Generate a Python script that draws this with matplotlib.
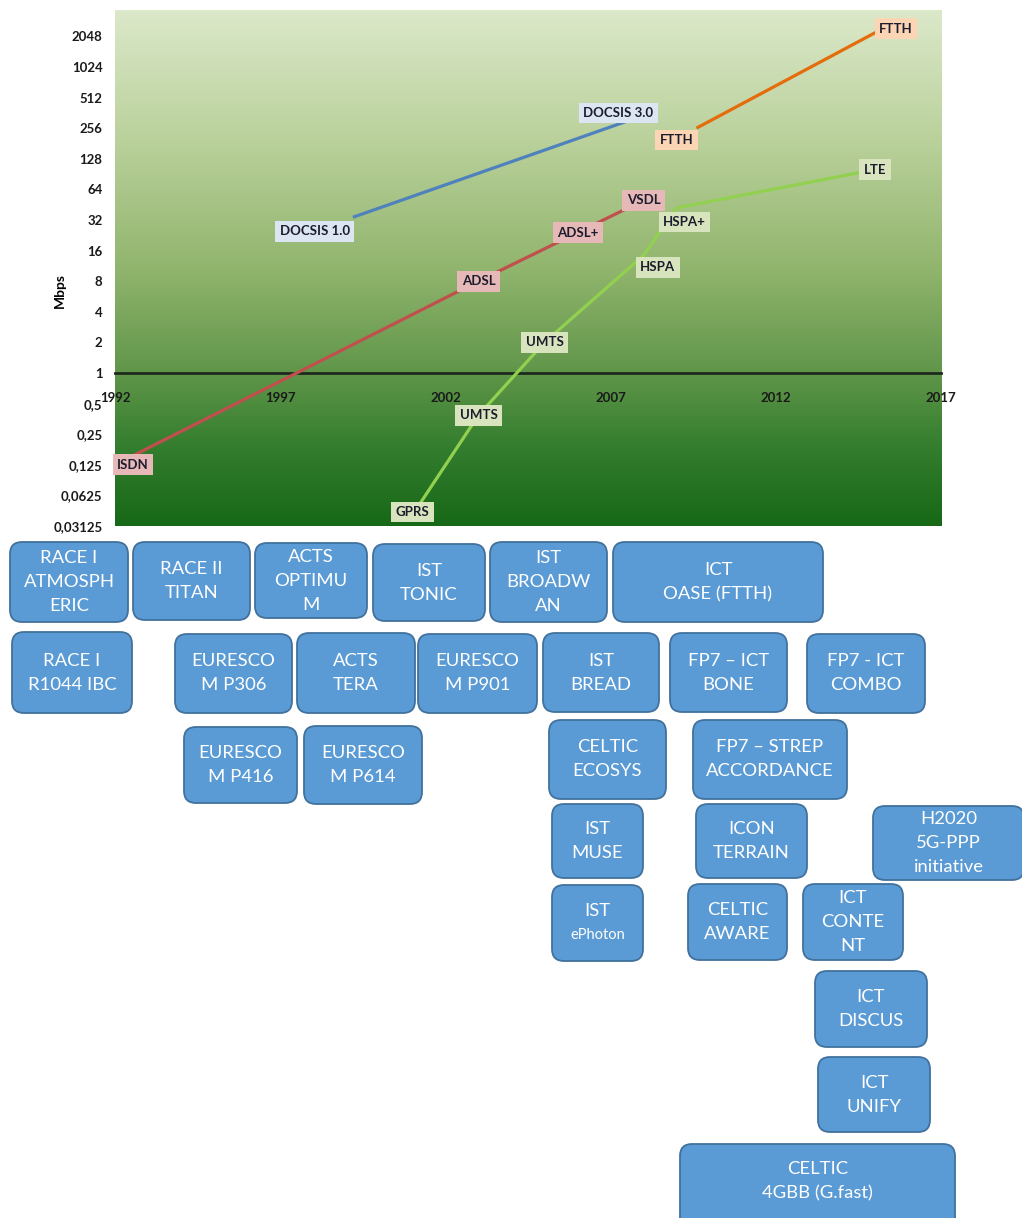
import numpy as np
import matplotlib.pyplot as plt
from matplotlib.colors import LinearSegmentedColormap
from matplotlib.patches import FancyBboxPatch
from matplotlib.ticker import FixedLocator, FuncFormatter

plt.rcParams['font.family'] = ['Lato', 'DejaVu Sans']

# --- data (year, Mbps) ---
docsis_years = [1999.2, 2007.5]
docsis_mbps = [34, 300]
docsis_labels = ["DOCSIS 1.0", "DOCSIS 3.0"]

ftth_years = [2009.6, 2015.3]
ftth_mbps = [256, 2500]
ftth_labels = ["FTTH", "FTTH"]

dsl_years = [1992, 2003, 2006, 2008]
dsl_mbps = [0.125, 8, 24, 50]
dsl_labels = ["ISDN", "ADSL", "ADSL+", "VSDL"]

mobile_years = [2001, 2003, 2005, 2008, 2009, 2015]
mobile_mbps = [0.04, 0.384, 2, 14.4, 42, 100]
mobile_labels = ["GPRS", "UMTS", "UMTS", "HSPA", "HSPA+", "LTE"]

x_ticks = [1992, 1997, 2002, 2007, 2012, 2017]
y_ticks = [0.03125, 0.0625, 0.125, 0.25, 0.5, 1, 2, 4, 8, 16, 32, 64,
           128, 256, 512, 1024, 2048]

# project boxes under the chart
box_texts = [
    "RACE I\nATMOSPH\nERIC", "RACE II\nTITAN", "ACTS\nOPTIMU\nM", "IST\nTONIC",
    "IST\nBROADW\nAN", "ICT\nOASE (FTTH)",
    "RACE I\nR1044 IBC", "EURESCO\nM P306", "ACTS\nTERA", "EURESCO\nM P901",
    "IST\nBREAD", "FP7 – ICT\nBONE", "FP7 - ICT\nCOMBO",
    "EURESCO\nM P416", "EURESCO\nM P614", "CELTIC\nECOSYS",
    "FP7 – STREP\nACCORDANCE",
    "IST\nMUSE", "ICON\nTERRAIN", "H2020\n5G-PPP\ninitiative",
    "IST\nePhoton", "CELTIC\nAWARE", "ICT\nCONTE\nNT",
    "ICT\nDISCUS", "ICT\nUNIFY", "CELTIC\n4GBB (G.fast)",
]

# --- layout (pixels) ---
W, H = 1022, 1218
box_rects = [
    (10, 542, 128, 622), (133, 542, 250, 620), (255, 543, 367, 618),
    (373, 544, 485, 621), (490, 542, 607, 622), (613, 542, 823, 622),
    (12, 632, 132, 713), (175, 634, 292, 713), (297, 633, 415, 713),
    (418, 634, 537, 713), (543, 633, 659, 712), (670, 633, 787, 712),
    (807, 634, 925, 713),
    (184, 727, 297, 803), (304, 726, 422, 804), (549, 720, 666, 799),
    (693, 720, 847, 799),
    (552, 804, 643, 878), (696, 804, 807, 878), (873, 806, 1024, 880),
    (552, 885, 643, 961), (688, 884, 787, 960), (803, 884, 903, 960),
    (815, 971, 927, 1047), (818, 1057, 930, 1132), (680, 1144, 955, 1234),
]
# label offsets from their point, in pixels (right, down)
docsis_off = [(-38, 14), (-9, -8)]
ftth_off = [(-20, 12), (11, 1)]
dsl_off = [(18, 0), (0, 0), (0, 0), (0, 0)]
mobile_off = [(0, -3), (0, 0), (0, 0), (14, 12), (8, 14), (0, 0)]

fig = plt.figure(figsize=(W / 100, H / 100), dpi=100)

bg = fig.add_axes([0, 0, 1, 1])
bg.set_xlim(0, W)
bg.set_ylim(H, 0)
bg.axis('off')

for txt, (x0, y0, x1, y1) in zip(box_texts, box_rects):
    bg.add_patch(FancyBboxPatch((x0, y0), x1 - x0, y1 - y0,
                                boxstyle="round,pad=0,rounding_size=12",
                                fc='#5b9bd5', ec='#41719c', lw=1.3))
    lines = txt.split("\n")
    cy = (y0 + min(y1, H)) / 2
    n = len(lines)
    for i, ln in enumerate(lines):
        size = 10.5 if ln == "ePhoton" else 13.3
        bg.text((x0 + x1) / 2, cy + (i - (n - 1) / 2) * 24, ln, color='white',
                fontsize=size, ha='center', va='center')

ax = fig.add_axes([115 / W, 1 - 526 / H, 826 / W, 516 / H])
ax.set_yscale('log', base=2)

cmap = LinearSegmentedColormap.from_list("bggreen", [
    (0.0, (0.09, 0.41, 0.09)),
    (0.15, (0.20, 0.49, 0.18)),
    (0.30, (0.38, 0.59, 0.29)),
    (0.50, (0.57, 0.71, 0.43)),
    (0.75, (0.73, 0.82, 0.61)),
    (1.0, (0.86, 0.91, 0.79)),
])
ax.imshow(np.linspace(0, 1, 256).reshape(-1, 1), cmap=cmap, origin='lower',
          extent=[0, 1, 0, 1], transform=ax.transAxes, aspect='auto', zorder=0)
ax.set_xlim(1992, 2017)
ax.set_ylim(2 ** -5, 2 ** 11.86)

for s in ['top', 'right', 'left']:
    ax.spines[s].set_visible(False)
ax.spines['bottom'].set_position(('data', 1))
ax.spines['bottom'].set_color('#1e2a1e')
ax.spines['bottom'].set_linewidth(2)
ax.spines['bottom'].set_zorder(1)

ax.set_xticks(x_ticks)
ax.yaxis.set_major_locator(FixedLocator(y_ticks))
ax.yaxis.set_minor_locator(FixedLocator([]))
ax.yaxis.set_major_formatter(FuncFormatter(
    lambda v, p: str(int(v)) if v >= 1 else str(v).replace('.', ',')))
ax.tick_params(axis='x', length=0, pad=14, labelsize=9.5, labelcolor='#1a1a1a')
ax.tick_params(axis='y', length=0, pad=9, labelsize=9.5, labelcolor='#1a1a1a')
for lab in ax.get_xticklabels() + ax.get_yticklabels():
    lab.set_fontweight('bold')

series = [
    (docsis_years, docsis_mbps, docsis_labels, docsis_off, '#4f81bd', '#dce6f2'),
    (ftth_years, ftth_mbps, ftth_labels, ftth_off, '#e46c0a', '#fcd5b5'),
    (dsl_years, dsl_mbps, dsl_labels, dsl_off, '#c0504d', '#e6b9b8'),
    (mobile_years, mobile_mbps, mobile_labels, mobile_off, '#92d050', '#d7e4bd'),
]
for xs, ys, labs, offs, col, fc in series:
    ax.plot(xs, ys, color=col, lw=2.3, solid_capstyle='butt', zorder=2)
    for x, y, t, (dx, dy) in zip(xs, ys, labs, offs):
        ax.annotate(t, (x, y), xytext=(dx, -dy), textcoords='offset pixels',
                    ha='center', va='center', fontsize=9.5, fontweight='bold',
                    color='#1c1c2c', zorder=3, annotation_clip=False,
                    bbox=dict(boxstyle='square,pad=0.33', fc=fc, ec='none'))

fig.text(60 / W, 1 - 290 / H, "Mbps", rotation=90, fontsize=10,
         fontweight='bold', ha='center', va='center')

fig.savefig("out.png", dpi=100)
